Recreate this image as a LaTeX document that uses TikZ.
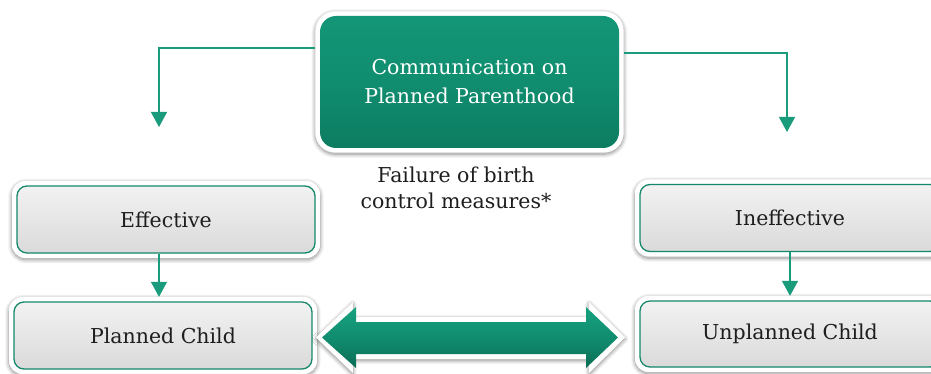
\documentclass[tikz,border=0pt]{standalone}
\usepackage{fontspec}
\setmainfont{DejaVu Serif}
\usetikzlibrary{shadows.blur,arrows.meta,backgrounds}
\definecolor{tealmain}{HTML}{108D6F}
\definecolor{teallight}{HTML}{139677}
\definecolor{tealdark}{HTML}{0D7C61}
\definecolor{arrlight}{HTML}{17A27F}
\definecolor{arrdark}{HTML}{0B6D55}
\definecolor{conncol}{HTML}{1A9B7B}
\definecolor{boxborder}{HTML}{15876B}
\definecolor{boxtop}{HTML}{F2F2F2}
\definecolor{boxbot}{HTML}{DADADA}
\definecolor{txt}{HTML}{1E1E1E}
\tikzset{
  topbox/.style={rectangle, rounded corners=16pt, minimum width=299pt, minimum height=132pt,
    top color=teallight, bottom color=tealdark, middle color=tealmain, draw=none,
    text=white, align=center, font=\fontsize{20.5}{29}\selectfont, inner sep=0pt},
  graybox/.style={rectangle, rounded corners=10pt, minimum width=298pt, minimum height=67pt,
    top color=boxtop, bottom color=boxbot, draw=boxborder, line width=1.3pt,
    text=txt, font=\fontsize{20.5}{26}\selectfont, inner sep=0pt},
  frame/.style={fill=white, rounded corners=#1,
    blur shadow={shadow xshift=0pt, shadow yshift=-1.5pt, shadow blur steps=10, shadow blur radius=4pt, shadow opacity=45}},
  conn/.style={draw=conncol, line width=1.3pt, -{Triangle[width=16pt,length=15pt]}},
}
\begin{document}
\begin{tikzpicture}[x=1pt,y=-1pt]
\useasboundingbox (0,0) rectangle (931,374);
\node[topbox] (top) at (469.5,82) {Communication on\\Planned Parenthood};
\node[graybox] (eff) at (166,219.5) {Effective};
\node[graybox] (pc) at (163,335.5) {Planned Child};
\node[graybox, minimum width=300pt] (ineff) at (790,218) {Ineffective};
\node[graybox, minimum width=300pt, minimum height=66pt] (up) at (790,334) {Unplanned Child};
\node[text=txt, align=center, font=\fontsize{20.5}{26}\selectfont] (fail) at (456,188) {Failure of birth\\control measures*};
\coordinate (ltip) at (159,127);
\coordinate (rtip) at (787,132);
\begin{pgfonlayer}{background}
  \foreach \n/\r in {top/20pt, eff/14pt, pc/14pt, ineff/14pt, up/14pt}{
    \path[frame=\r] ([shift={(-4.5,-4.5)}]\n.north west) rectangle ([shift={(4.5,4.5)}]\n.south east);
  }
  % double arrow outline
  \path[fill=white, blur shadow={shadow xshift=0pt, shadow yshift=-1.5pt, shadow blur steps=10, shadow blur radius=4pt, shadow opacity=45}]
    (316,337.5) -- (353,302) -- (353,317) -- (589,317) -- (589,302) -- (625,337.5)
    -- (589,373) -- (589,359) -- (353,359) -- (353,373) -- cycle;
\end{pgfonlayer}
\path[top color=arrlight, bottom color=arrdark, middle color=tealmain]
  (322,337.5) -- (356,307) -- (356,322) -- (586,322) -- (586,307) -- (618,337.5)
  -- (586,368) -- (586,354) -- (356,354) -- (356,368) -- cycle;
\draw[conn] ([xshift=-4.5pt,yshift=34pt]top.west) -| (ltip);
\draw[conn] ([xshift=4.5pt,yshift=29pt]top.east) -| (rtip);
\draw[conn] ([xshift=-7pt]eff.south) -- ([xshift=-4pt,yshift=4.5pt]pc.north);
\draw[conn] (ineff.south) -- ([yshift=4.5pt]up.north);
\end{tikzpicture}
\end{document}
